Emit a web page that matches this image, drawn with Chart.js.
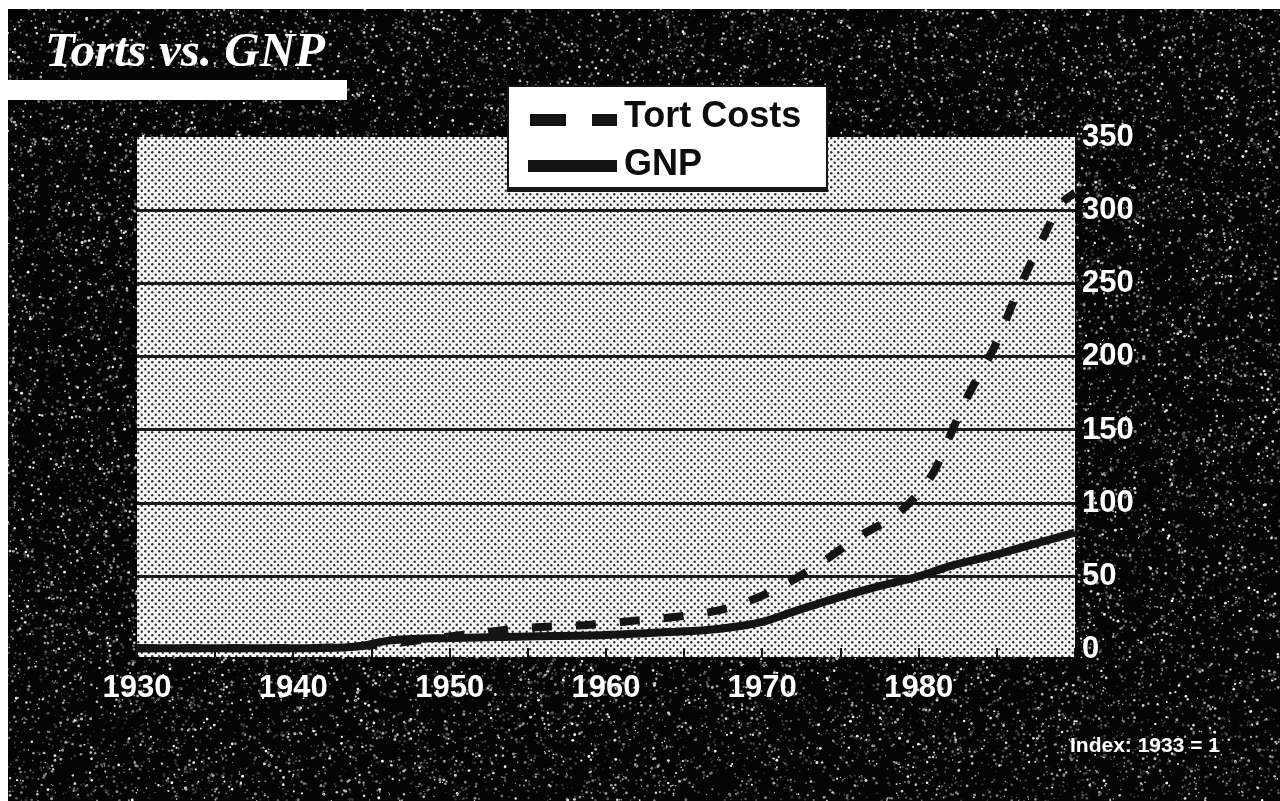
<!DOCTYPE html>
<html>
<head>
<meta charset="utf-8">
<title>Torts vs. GNP</title>
<script src="https://cdn.jsdelivr.net/npm/chart.js@4.4.1/dist/chart.umd.min.js"></script>
<style>
  html, body { margin: 0; padding: 0; background: #000; }
  #wrap { width: 1280px; height: 801px; position: relative; }
  canvas { display: block; }
</style>
</head>
<body>
<div id="wrap"><canvas id="chart" width="1280" height="801"></canvas></div>
<script>
// ---- chart text ----
const chartTitle = 'Torts vs. GNP';
const indexNote = 'Index: 1933 = 1';
const seriesNames = ['Tort Costs', 'GNP'];

// ---- series (index, 1933 = 1) ----
const tortYears = [1930, 1935, 1940, 1945, 1950, 1955, 1959, 1962, 1965, 1968, 1971, 1974, 1976, 1979, 1981, 1982, 1983, 1984, 1985, 1986, 1987, 1988, 1989, 1990];
const tortCosts = [1, 1, 1, 3, 9, 15, 17, 20, 23, 29, 42, 61, 76, 96, 122, 146, 170, 190, 210, 236, 260, 282, 303, 312];

const gnpYears = [1930, 1935, 1940, 1944, 1946, 1950, 1955, 1960, 1964, 1967, 1970, 1972, 1975, 1977, 1980, 1982, 1985, 1987, 1990];
const gnpIndex = [1, 1, 1, 2, 6, 8, 9, 10, 12, 14, 19, 26, 36, 42, 50, 57, 65, 71, 80];

// ---- axes ----
const xLabelYears = [1930, 1940, 1950, 1960, 1970, 1980];
const yTickValues = [0, 50, 100, 150, 200, 250, 300, 350];

const INK = '#141414';

// dark speckled backdrop
function makeSpeckle(w, h) {
  const c = document.createElement('canvas');
  c.width = w; c.height = h;
  const g = c.getContext('2d');
  g.fillStyle = '#040404';
  g.fillRect(0, 0, w, h);
  let s = 918273645;
  const rnd = () => { s = (Math.imul(s, 1664525) + 1013904223) >>> 0; return s / 4294967296; };
  for (let i = 0; i < 30000; i++) {
    const x = rnd() * w, y = rnd() * h;
    const r = 0.5 + rnd() * 1.0;
    const t = rnd();
    const v = Math.floor(50 + t * t * 205);
    g.fillStyle = 'rgb(' + v + ',' + v + ',' + v + ')';
    g.beginPath();
    g.arc(x, y, r, 0, Math.PI * 2);
    g.fill();
  }
  return c;
}

// halftone dot screen for the plot panel
function makeScreen() {
  const c = document.createElement('canvas');
  c.width = 7; c.height = 7;
  const g = c.getContext('2d');
  g.fillStyle = '#f8f8f8';
  g.fillRect(0, 0, 7, 7);
  g.fillStyle = '#303030';
  [[1.75, 1.75], [5.25, 5.25]].forEach(([x, y]) => {
    g.beginPath(); g.arc(x, y, 1.2, 0, Math.PI * 2); g.fill();
  });
  return c;
}

const speckle = makeSpeckle(1280, 801);
const screenTile = makeScreen();

const slidePlugin = {
  id: 'slide',
  beforeDraw(chart) {
    const ctx = chart.ctx;
    const a = chart.chartArea;
    ctx.save();
    ctx.drawImage(speckle, 0, 0);
    // white paper edge on top and left
    ctx.fillStyle = '#ffffff';
    ctx.fillRect(0, 0, 1280, 9);
    ctx.fillRect(0, 0, 8, 801);
    // title rule
    ctx.fillStyle = '#050505';
    ctx.fillRect(82, 68, 171, 12);
    ctx.fillStyle = '#ffffff';
    ctx.fillRect(8, 80, 339, 20);
    // plot panel
    ctx.fillStyle = ctx.createPattern(screenTile, 'repeat');
    ctx.fillRect(a.left, a.top, a.right - a.left, a.bottom - a.top);
    ctx.restore();
  },
  afterDraw(chart) {
    const ctx = chart.ctx;
    const ds = chart.data.datasets;
    ctx.save();
    // title
    ctx.fillStyle = '#ffffff';
    ctx.font = 'italic bold 49px "Liberation Serif", "DejaVu Serif", serif';
    ctx.textBaseline = 'alphabetic';
    ctx.textAlign = 'left';
    ctx.fillText(chartTitle, 45, 66);

    // legend box
    ctx.fillStyle = '#ffffff';
    ctx.fillRect(508, 86, 319, 104);
    ctx.strokeStyle = INK;
    ctx.lineWidth = 2;
    ctx.strokeRect(508, 86, 319, 104);
    ctx.fillStyle = INK;
    ctx.fillRect(507, 187, 321, 5);
    // samples
    ctx.fillRect(530, 114, 36, 12);
    ctx.fillRect(592, 114, 25, 12);
    ctx.fillRect(528, 160, 89, 12);
    // labels
    ctx.font = 'bold 36px "Liberation Sans", Arial, sans-serif';
    ctx.fillStyle = '#0d0d0d';
    ctx.fillText(ds[0].label, 624, 127);
    ctx.fillText(ds[1].label, 624, 175);

    // index note
    ctx.fillStyle = '#ffffff';
    ctx.font = 'bold 21px "Liberation Sans", Arial, sans-serif';
    ctx.textAlign = 'center';
    ctx.fillText(indexNote, 1145, 752);
    ctx.restore();
  }
};

const tickFont = { family: '"Liberation Sans", Arial, sans-serif', weight: 'bold', size: 31 };

new Chart(document.getElementById('chart'), {
  type: 'line',
  data: {
    datasets: [
      {
        label: seriesNames[0],
        data: tortYears.map((x, i) => ({ x: x, y: tortCosts[i] })),
        borderColor: INK,
        borderWidth: 8,
        borderDash: [20, 24],
        borderCapStyle: 'butt',
        pointRadius: 0,
        cubicInterpolationMode: 'monotone',
        fill: false
      },
      {
        label: seriesNames[1],
        data: gnpYears.map((x, i) => ({ x: x, y: gnpIndex[i] })),
        borderColor: INK,
        borderWidth: 8,
        pointRadius: 0,
        cubicInterpolationMode: 'monotone',
        fill: false
      }
    ]
  },
  options: {
    responsive: false,
    animation: false,
    devicePixelRatio: 1,
    layout: { padding: { left: 137, top: 137, right: 0, bottom: 0 } },
    plugins: {
      legend: { display: false },
      title: { display: false },
      tooltip: { enabled: false }
    },
    scales: {
      x: {
        type: 'linear',
        position: 'bottom',
        min: 1930,
        max: 1990,
        afterFit(s) { s.height = 144; },
        border: { display: false },
        grid: {
          drawOnChartArea: false,
          drawTicks: true,
          tickLength: -9,
          color: INK,
          lineWidth: 2
        },
        ticks: {
          stepSize: 5,
          autoSkip: false,
          maxRotation: 0,
          color: '#ffffff',
          font: tickFont,
          padding: 22,
          callback: (v) => xLabelYears.includes(v) ? String(v) : ''
        }
      },
      y: {
        type: 'linear',
        position: 'right',
        min: -5,
        max: 350,
        afterFit(s) { s.width = 205; },
        afterBuildTicks(s) { s.ticks = yTickValues.map(v => ({ value: v })); },
        border: { display: false },
        grid: {
          drawTicks: false,
          lineWidth: 3,
          color: (c) => (c.tick && (c.tick.value === 0 || c.tick.value === 350)) ? 'rgba(0,0,0,0)' : '#1a1a1a'
        },
        ticks: {
          color: '#ffffff',
          font: { family: '"Liberation Sans", Arial, sans-serif', weight: 'bold', size: 31 },
          padding: 7
        }
      }
    }
  },
  plugins: [slidePlugin]
});
</script>
</body>
</html>
